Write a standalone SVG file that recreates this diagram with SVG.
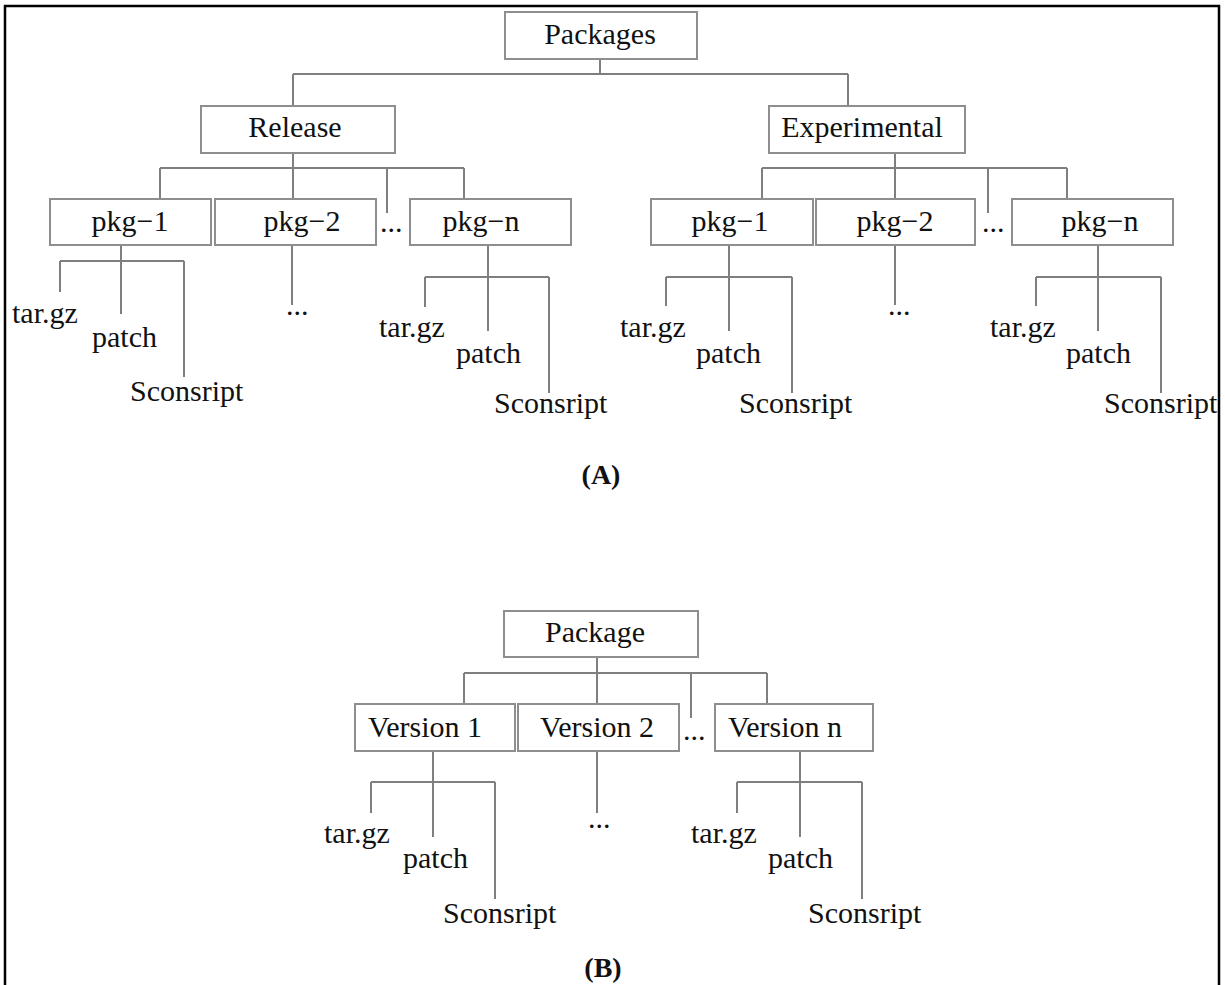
<svg xmlns="http://www.w3.org/2000/svg" width="1225" height="985" viewBox="0 0 1225 985">
<style>
.box{fill:#fff;stroke:#8e8e8e;stroke-width:2}
.ln{stroke:#7f7f7f;stroke-width:2;fill:none}
.t{font-family:"Liberation Serif","Times New Roman",serif;font-size:30px;fill:#111}
.c{text-anchor:middle}
.b{font-weight:bold;font-size:28px}
</style>
<rect x="0" y="0" width="1225" height="985" fill="#fff"/>
<rect x="5" y="6" width="1214" height="1010" fill="none" stroke="#000" stroke-width="2.5"/>

<g id="connectors">
<path class="ln" d="M600 59V74M293 74H848M293 74V106M848 74V106"/>
<path class="ln" d="M293 153V199M160 168H464M160 168V199M387 168V213M464 168V199"/>
<path class="ln" d="M895 153V199M762 168H1067M762 168V199M988 168V213M1067 168V199"/>
<path class="ln" d="M121 245V314M60 261H184M60 261V292M184 261V377"/>
<path class="ln" d="M292 245V305"/>
<path class="ln" d="M488 245V331M425 277H549M425 277V307M549 277V393"/>
<path class="ln" d="M729 245V331M666 277H792M666 277V306M792 277V393"/>
<path class="ln" d="M895 245V305"/>
<path class="ln" d="M1098 245V331M1036 277H1161M1036 277V306M1161 277V393"/>
<path class="ln" d="M597 657V704M464 673H767M464 673V704M691 673V718M767 673V704"/>
<path class="ln" d="M433 751V837M371 782H495M371 782V813M495 782V899"/>
<path class="ln" d="M597 751V813"/>
<path class="ln" d="M800 751V837M737 782H862M737 782V813M862 782V899"/>
</g>

<g id="packages"><rect class="box" x="505" y="12" width="192" height="47"/><text class="t c" x="600" y="44">Packages</text></g>
<g id="release"><rect class="box" x="201" y="106" width="194" height="47"/><text class="t c" x="295" y="137">Release</text></g>
<g id="experimental"><rect class="box" x="769" y="106" width="196" height="47"/><text class="t c" x="862" y="137">Experimental</text></g>

<g id="r-pkg-1"><rect class="box" x="50" y="199" width="161" height="46"/><text class="t c" x="130" y="231">pkg−1</text></g>
<g id="r-pkg-2"><rect class="box" x="215" y="199" width="161" height="46"/><text class="t c" x="302" y="231">pkg−2</text></g>
<text id="r-dots" class="t" x="380" y="232">...</text>
<g id="r-pkg-n"><rect class="box" x="410" y="199" width="161" height="46"/><text class="t c" x="481" y="231">pkg−n</text></g>

<g id="e-pkg-1"><rect class="box" x="651" y="199" width="162" height="46"/><text class="t c" x="730" y="231">pkg−1</text></g>
<g id="e-pkg-2"><rect class="box" x="816" y="199" width="159" height="46"/><text class="t c" x="895" y="231">pkg−2</text></g>
<text id="e-dots" class="t" x="982" y="232">...</text>
<g id="e-pkg-n"><rect class="box" x="1012" y="199" width="161" height="46"/><text class="t c" x="1100" y="231">pkg−n</text></g>

<g id="r1-leaves"><text class="t" x="12" y="323">tar.gz</text><text class="t" x="92" y="347">patch</text><text class="t" x="130" y="401">Sconsript</text></g>
<text id="r2-dots" class="t" x="286" y="315">...</text>
<g id="rn-leaves"><text class="t" x="379" y="337">tar.gz</text><text class="t" x="456" y="363">patch</text><text class="t" x="494" y="413">Sconsript</text></g>
<g id="e1-leaves"><text class="t" x="620" y="337">tar.gz</text><text class="t" x="696" y="363">patch</text><text class="t" x="739" y="413">Sconsript</text></g>
<text id="e2-dots" class="t" x="888" y="315">...</text>
<g id="en-leaves"><text class="t" x="990" y="337">tar.gz</text><text class="t" x="1066" y="363">patch</text><text class="t" x="1104" y="413">Sconsript</text></g>

<text id="label-a" class="t c b" x="601" y="484">(A)</text>

<g id="package"><rect class="box" x="504" y="611" width="194" height="46"/><text class="t c" x="595" y="642">Package</text></g>
<g id="version-1"><rect class="box" x="355" y="704" width="160" height="47"/><text class="t c" x="425" y="737">Version 1</text></g>
<g id="version-2"><rect class="box" x="518" y="704" width="161" height="47"/><text class="t c" x="597" y="737">Version 2</text></g>
<text id="v-dots" class="t" x="683" y="740">...</text>
<g id="version-n"><rect class="box" x="715" y="704" width="158" height="47"/><text class="t c" x="785" y="737">Version n</text></g>

<g id="v1-leaves"><text class="t" x="324" y="843">tar.gz</text><text class="t" x="403" y="868">patch</text><text class="t" x="443" y="923">Sconsript</text></g>
<text id="v2-dots" class="t" x="588" y="828">...</text>
<g id="vn-leaves"><text class="t" x="691" y="843">tar.gz</text><text class="t" x="768" y="868">patch</text><text class="t" x="808" y="923">Sconsript</text></g>

<text id="label-b" class="t c b" x="603" y="977">(B)</text>
</svg>
